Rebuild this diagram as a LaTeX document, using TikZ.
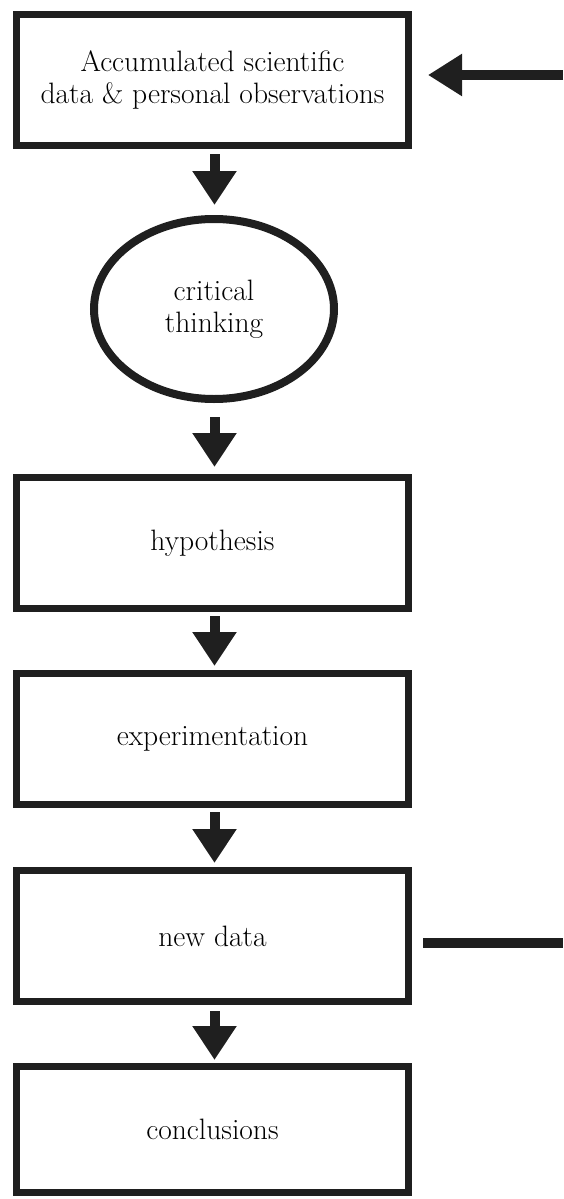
\documentclass[tikz,border=0pt]{standalone}
\usetikzlibrary{shapes.geometric,arrows.meta}
\begin{document}
\begin{tikzpicture}[x=1pt,y=-1pt,
  txt/.style={font=\fontsize{29.5}{32}\selectfont, align=center, text=black},
  stagebox/.style={txt, draw=black!88, line width=7pt, rectangle, minimum width=392pt, minimum height=131pt, inner sep=0pt},
  thinkoval/.style={txt, draw=black!88, line width=8pt, ellipse, minimum width=240pt, minimum height=180pt, inner sep=0pt},
  conn/.style={draw=black!88, fill=black!88, line width=10pt, -{Triangle[width=42pt,length=34pt]}},
  plainline/.style={draw=black!88, line width=10pt}]
\useasboundingbox (0,0) rectangle (563,1199);
\node[stagebox] (acc) at (212.5,80) {Accumulated scientific\\data \& personal observations};
\node[thinkoval] (crit) at (214,309) {\fontsize{29.5}{30}\selectfont critical\\thinking};
\node[stagebox] (hyp) at (212.5,543) {hypothesis};
\node[stagebox] (exp) at (212.5,739) {experimentation};
\node[stagebox] (nd) at (212.5,936) {new data};
\node[stagebox, minimum height=126pt] (conc) at (212.5,1129.5) {conclusions};
\coordinate (fbin) at (563,75);
\coordinate (fbout) at (563,943);
\draw[conn, shorten <=5pt, shorten >=10pt] (acc.south -| 214.5,0) -- (crit.north -| 214.5,0);
\draw[conn, shorten <=14pt, shorten >=7pt] (crit.south -| 214.5,0) -- (hyp.north -| 214.5,0);
\draw[conn, shorten <=4pt, shorten >=4pt] (hyp.south -| 214.5,0) -- (exp.north -| 214.5,0);
\draw[conn, shorten <=4pt, shorten >=4pt] (exp.south -| 214.5,0) -- (nd.north -| 214.5,0);
\draw[conn, shorten <=6pt, shorten >=3pt] (nd.south -| 214.5,0) -- (conc.north -| 214.5,0);
\draw[plainline, shorten <=11pt] (nd.east |- fbout) -- (fbout);
\draw[conn, -{Triangle[width=40pt,length=34pt]}, shorten >=16pt] (fbin) -- (acc.east |- fbin);
\end{tikzpicture}
\end{document}
